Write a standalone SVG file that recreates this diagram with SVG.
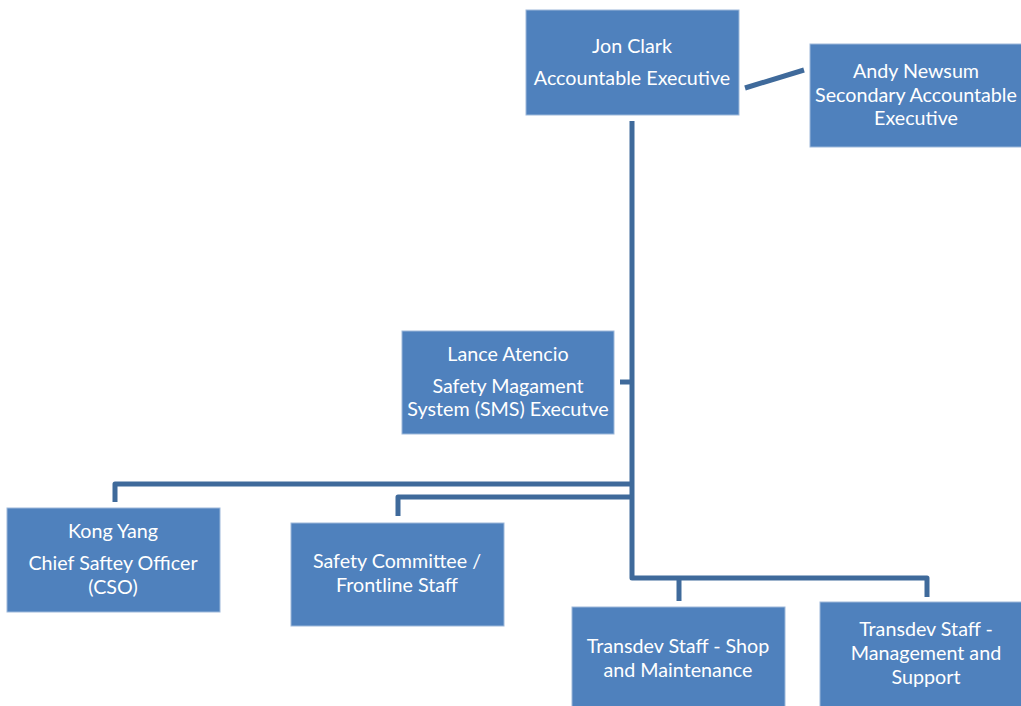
<svg xmlns="http://www.w3.org/2000/svg" width="1021" height="706" viewBox="0 0 1021 706">
<style>
.box{fill:#4F81BD;stroke:#9DB8DA;stroke-width:1}
.t{font-family:Lato,"Open Sans","Liberation Sans",sans-serif;font-size:19.7px;fill:#FFFFFF;text-anchor:middle}
.c{fill:none;stroke:#3F6A9B;stroke-width:5;stroke-linejoin:round}
</style>
<rect width="1021" height="706" fill="#FFFFFF"/>
<g id="connectors">
<line class="c" x1="745" y1="88" x2="804" y2="70"/>
<polyline class="c" points="632,121 632,578 927,578 927,597"/>
<line class="c" x1="679" y1="578" x2="679" y2="601"/>
<line class="c" x1="620" y1="382" x2="632" y2="382"/>
<polyline class="c" points="115,502 115,484 632,484"/>
<polyline class="c" points="398,516 398,497 632,497"/>
</g>
<g id="jon">
<rect class="box" x="526" y="10" width="213" height="105"/>
<text class="t" x="632" y="53">Jon Clark</text>
<text class="t" x="632" y="85">Accountable Executive</text>
</g>
<g id="andy">
<rect class="box" x="810" y="44" width="212" height="103"/>
<text class="t" x="916" y="78">Andy Newsum</text>
<text class="t" x="916" y="102">Secondary Accountable</text>
<text class="t" x="916" y="125">Executive</text>
</g>
<g id="lance">
<rect class="box" x="402" y="331" width="212" height="103"/>
<text class="t" x="508" y="361">Lance Atencio</text>
<text class="t" x="508" y="393">Safety Magament</text>
<text class="t" x="508" y="416">System (SMS) Executve</text>
</g>
<g id="kong">
<rect class="box" x="7" y="508" width="213" height="104"/>
<text class="t" x="113" y="538">Kong Yang</text>
<text class="t" x="113" y="570">Chief Saftey Officer</text>
<text class="t" x="113" y="594">(CSO)</text>
</g>
<g id="committee">
<rect class="box" x="291" y="523" width="213" height="103"/>
<text class="t" x="397" y="568">Safety Committee /</text>
<text class="t" x="397" y="592">Frontline Staff</text>
</g>
<g id="shop">
<rect class="box" x="572" y="607" width="213" height="104"/>
<text class="t" x="678" y="653">Transdev Staff - Shop</text>
<text class="t" x="678" y="677">and Maintenance</text>
</g>
<g id="mgmt">
<rect class="box" x="820" y="602" width="213" height="109"/>
<text class="t" x="926" y="636">Transdev Staff -</text>
<text class="t" x="926" y="660">Management and</text>
<text class="t" x="926" y="684">Support</text>
</g>
</svg>
